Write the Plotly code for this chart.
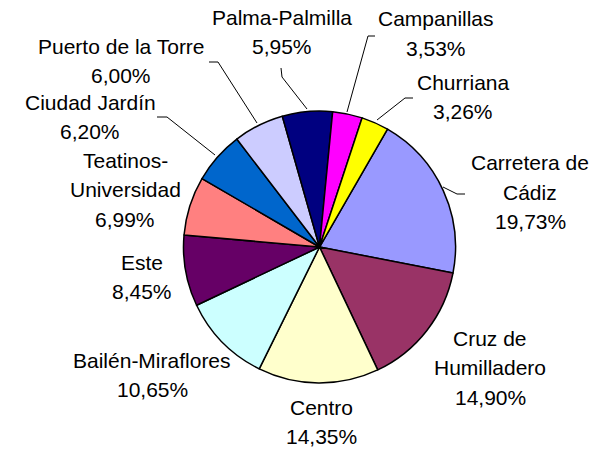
import plotly.graph_objects as go

W, H = 604, 451

labels = ["Carretera de Cádiz", "Cruz de Humilladero", "Centro", "Bailén-Miraflores",
          "Este", "Teatinos-Universidad", "Ciudad Jardín", "Puerto de la Torre",
          "Palma-Palmilla", "Campanillas", "Churriana"]
values = [19.73, 14.90, 14.35, 10.65, 8.45, 6.99, 6.20, 6.00, 5.95, 3.53, 3.26]
colors = ["#9999FF", "#993366", "#FFFFCC", "#CCFFFF", "#660066", "#FF8080",
          "#0066CC", "#CCCCFF", "#000080", "#FF00FF", "#FFFF00"]
label_lines = [["Carretera de", "Cádiz"], ["Cruz de", "Humilladero"], ["Centro"],
               ["Bailén-Miraflores"], ["Este"], ["Teatinos-", "Universidad"],
               ["Ciudad Jardín"], ["Puerto de la Torre"], ["Palma-Palmilla"],
               ["Campanillas"], ["Churriana"]]

# label block placement (pixel: center x, first-line center y)
label_pos = [(530, 163), (490, 338), (322, 407), (152, 360), (142, 262), (125, 160),
             (90, 102), (121, 46), (282, 17), (436, 19), (463, 82)]
LINE = 29.5

# leader lines (pixel polylines)
leaders = [
    [(465, 194), (457, 194), (443, 187)],
    [(157, 117), (167, 117), (215, 155)],
    [(209, 62), (218, 62), (257, 123)],
    [(281, 68), (282, 77), (307, 109)],
    [(375, 36), (368, 36), (347, 112)],
    [(413, 98), (405, 98), (377, 120)],
]

def px(x, y):
    return x / W, 1 - y / H

cx, cy, r = 319.5, 247, 136
x0, y1 = px(cx - r, cy - r)
x1, y0 = px(cx + r, cy + r)

fig = go.Figure(go.Pie(
    labels=labels, values=values, sort=False, direction="clockwise", rotation=30,
    marker=dict(colors=colors, line=dict(color="black", width=1.5)),
    textinfo="none", hoverinfo="label+percent", showlegend=False,
    domain=dict(x=[x0, x1], y=[y0, y1]),
))

font = dict(family="Liberation Sans, Arial, sans-serif", size=21, color="black")
annotations = []
for lines, v, (lx, ly) in zip(label_lines, values, label_pos):
    all_lines = lines + [f"{v:.2f}%".replace(".", ",")]
    for i, t in enumerate(all_lines):
        ax, ay = px(lx, ly + i * LINE)
        annotations.append(dict(x=ax, y=ay, xref="paper", yref="paper", text=t,
                                showarrow=False, xanchor="center", yanchor="middle",
                                font=font))

shapes = []
for pts in leaders:
    path = ""
    for i, (x, y) in enumerate(pts):
        a, b = px(x, y)
        path += ("M" if i == 0 else "L") + f"{a},{b} "
    shapes.append(dict(type="path", path=path.strip(), xref="paper", yref="paper",
                       line=dict(color="black", width=1)))

fig.update_layout(width=W, height=H, margin=dict(l=0, r=0, t=0, b=0),
                  paper_bgcolor="white", plot_bgcolor="white",
                  annotations=annotations, shapes=shapes)
fig.write_html("out.html", config={"displayModeBar": False},
               post_script="document.body.style.margin='0';document.body.style.overflow='hidden';")
